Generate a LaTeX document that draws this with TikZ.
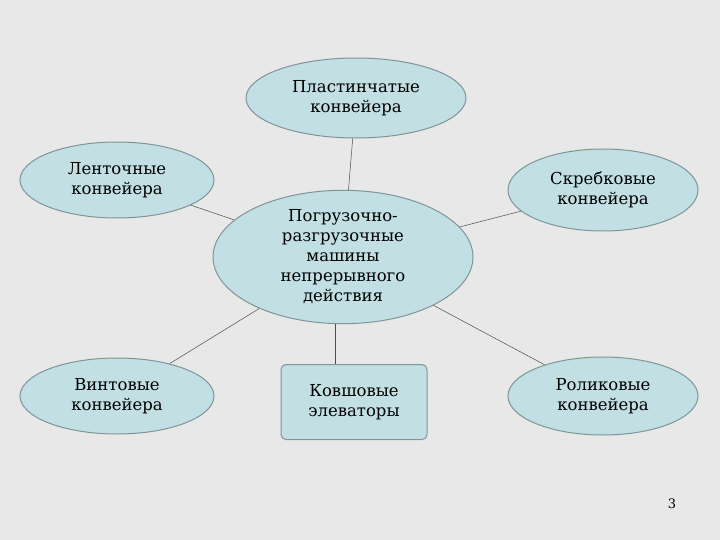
\documentclass[tikz,border=0pt]{standalone}
\usepackage{fontspec}
\setmainfont{DejaVu Serif}
\usetikzlibrary{shapes.geometric}
\definecolor{efill}{HTML}{C2DFE3}
\definecolor{edraw}{HTML}{7F9599}
\begin{document}
\begin{tikzpicture}[x=1pt,y=-1pt,
  el/.style={ellipse,draw=edraw,line width=1pt,fill=efill,inner sep=0pt,align=center,font=\fontsize{16.5}{20}\selectfont},
  bx/.style={rectangle,rounded corners=5pt,draw=edraw,line width=1pt,fill=efill,align=center,font=\fontsize{16.5}{20}\selectfont},
  ln/.style={draw=black!70,line width=0.5pt}]
\fill[gray!18] (0,0) rectangle (720,540);
\useasboundingbox (0,0) rectangle (720,540);
\node[el,minimum width=220,minimum height=80] (top) at (356,98) {Пластинчатые\\конвейера};
\node[el,minimum width=194,minimum height=76] (lt) at (117,180) {Ленточные\\конвейера};
\node[el,minimum width=260,minimum height=130] (c) at (343,257) {Погрузочно-\\разгрузочные\\машины\\непрерывного\\действия};
\node[el,minimum width=190,minimum height=82] (rt) at (603,190) {Скребковые\\конвейера};
\node[el,minimum width=194,minimum height=76] (lb) at (117,396) {Винтовые\\конвейера};
\node[bx,minimum width=146,minimum height=75] (mb) at (354,402) {Ковшовые\\элеваторы};
\node[el,minimum width=190,minimum height=78] (rb) at (603,396) {Роликовые\\конвейера};
\node[font=\fontsize{13}{15}\selectfont] (num) at (672,504) {3};
\draw[ln] (top) -- (c);
\draw[ln] (lt) -- (c);
\draw[ln] (rt) -- (c);
\draw[ln] (lb) -- (c);
\draw[ln] (c.south -| 335,0) -- (mb.north -| 335,0);
\draw[ln] (rb) -- (c);
\end{tikzpicture}
\end{document}
